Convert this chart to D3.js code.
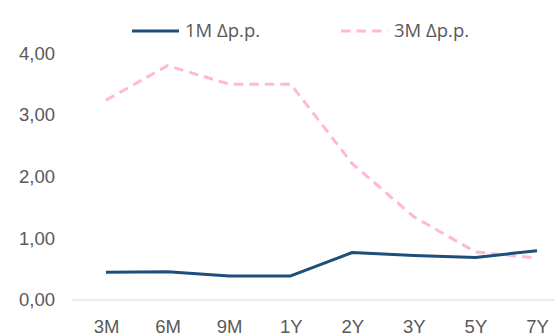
<!DOCTYPE html>
<html>
<head>
<meta charset="utf-8">
<script src="https://cdn.jsdelivr.net/npm/d3@7"></script>
<style>
  html, body { margin: 0; padding: 0; background: #fff; }
  svg { display: block; font-family: "Open Sans", "DejaVu Sans", sans-serif; }
</style>
</head>
<body>
<svg id="chart" width="555" height="336"></svg>
<script>
// Tenors on the horizontal axis
const categories = ["3M", "6M", "9M", "1Y", "2Y", "3Y", "5Y", "7Y"];
// Change in percentage points per tenor
const series1M = [0.45, 0.46, 0.39, 0.39, 0.77, 0.72, 0.69, 0.80];
const series3M = [3.24, 3.80, 3.50, 3.50, 2.21, 1.35, 0.78, 0.68];
const yTicks = [0, 1, 2, 3, 4];
const seriesNames = ["1M Δp.p.", "3M Δp.p."];

const svg = d3.select("#chart");
const textColor = "#595959";
const fontSize = "18.5px";

const x = d3.scalePoint().domain(categories).range([106, 537]);
const y = d3.scaleLinear().domain([0, 4]).range([300, 53.3]);
const fmt = v => d3.format(".2f")(v).replace(".", ",");

// Baseline gridline at zero
svg.append("line")
  .attr("x1", 72).attr("x2", 555)
  .attr("y1", y(0)).attr("y2", y(0))
  .attr("stroke", "#d9d9d9").attr("stroke-width", 1);

// Y axis labels
const yAxis = d3.axisLeft(y).tickValues(yTicks).tickFormat(fmt).tickSize(0).tickPadding(0);
const gy = svg.append("g").attr("transform", "translate(55,0)").call(yAxis);
gy.select(".domain").remove();
gy.selectAll("text").attr("fill", textColor).style("font-size", fontSize).style("font-family", null);

// X axis labels
const xAxis = d3.axisBottom(x).tickSize(0).tickPadding(0);
const gx = svg.append("g").attr("transform", "translate(0,320)").call(xAxis);
gx.select(".domain").remove();
gx.selectAll("text").attr("fill", textColor).style("font-size", fontSize).style("font-family", null);

const line = d3.line().x((d, i) => x(categories[i])).y(d => y(d));

svg.append("path")
  .datum(series3M)
  .attr("d", line)
  .attr("fill", "none")
  .attr("stroke", "#ffb7dc")
  .attr("stroke-width", 3)
  .attr("stroke-dasharray", "9.5,6");

svg.append("path")
  .datum(series1M)
  .attr("d", line)
  .attr("fill", "none")
  .attr("stroke", "#1f4e79")
  .attr("stroke-width", 3)
  .attr("stroke-linejoin", "round");

// Legend
const legend = [
  { name: seriesNames[0], color: "#1f4e79", dash: null, x0: 132 },
  { name: seriesNames[1], color: "#ffb7dc", dash: "9.5,6", x0: 341 }
];
const lg = svg.append("g").selectAll("g").data(legend).join("g");
lg.append("line")
  .attr("x1", d => d.x0).attr("x2", d => d.x0 + 47)
  .attr("y1", 31).attr("y2", 31)
  .attr("stroke", d => d.color).attr("stroke-width", 3)
  .attr("stroke-dasharray", d => d.dash);
lg.append("text")
  .attr("x", d => d.x0 + 53).attr("y", 31)
  .attr("dy", "0.35em")
  .attr("fill", textColor)
  .style("font-size", fontSize)
  .text(d => d.name);
</script>
</body>
</html>
